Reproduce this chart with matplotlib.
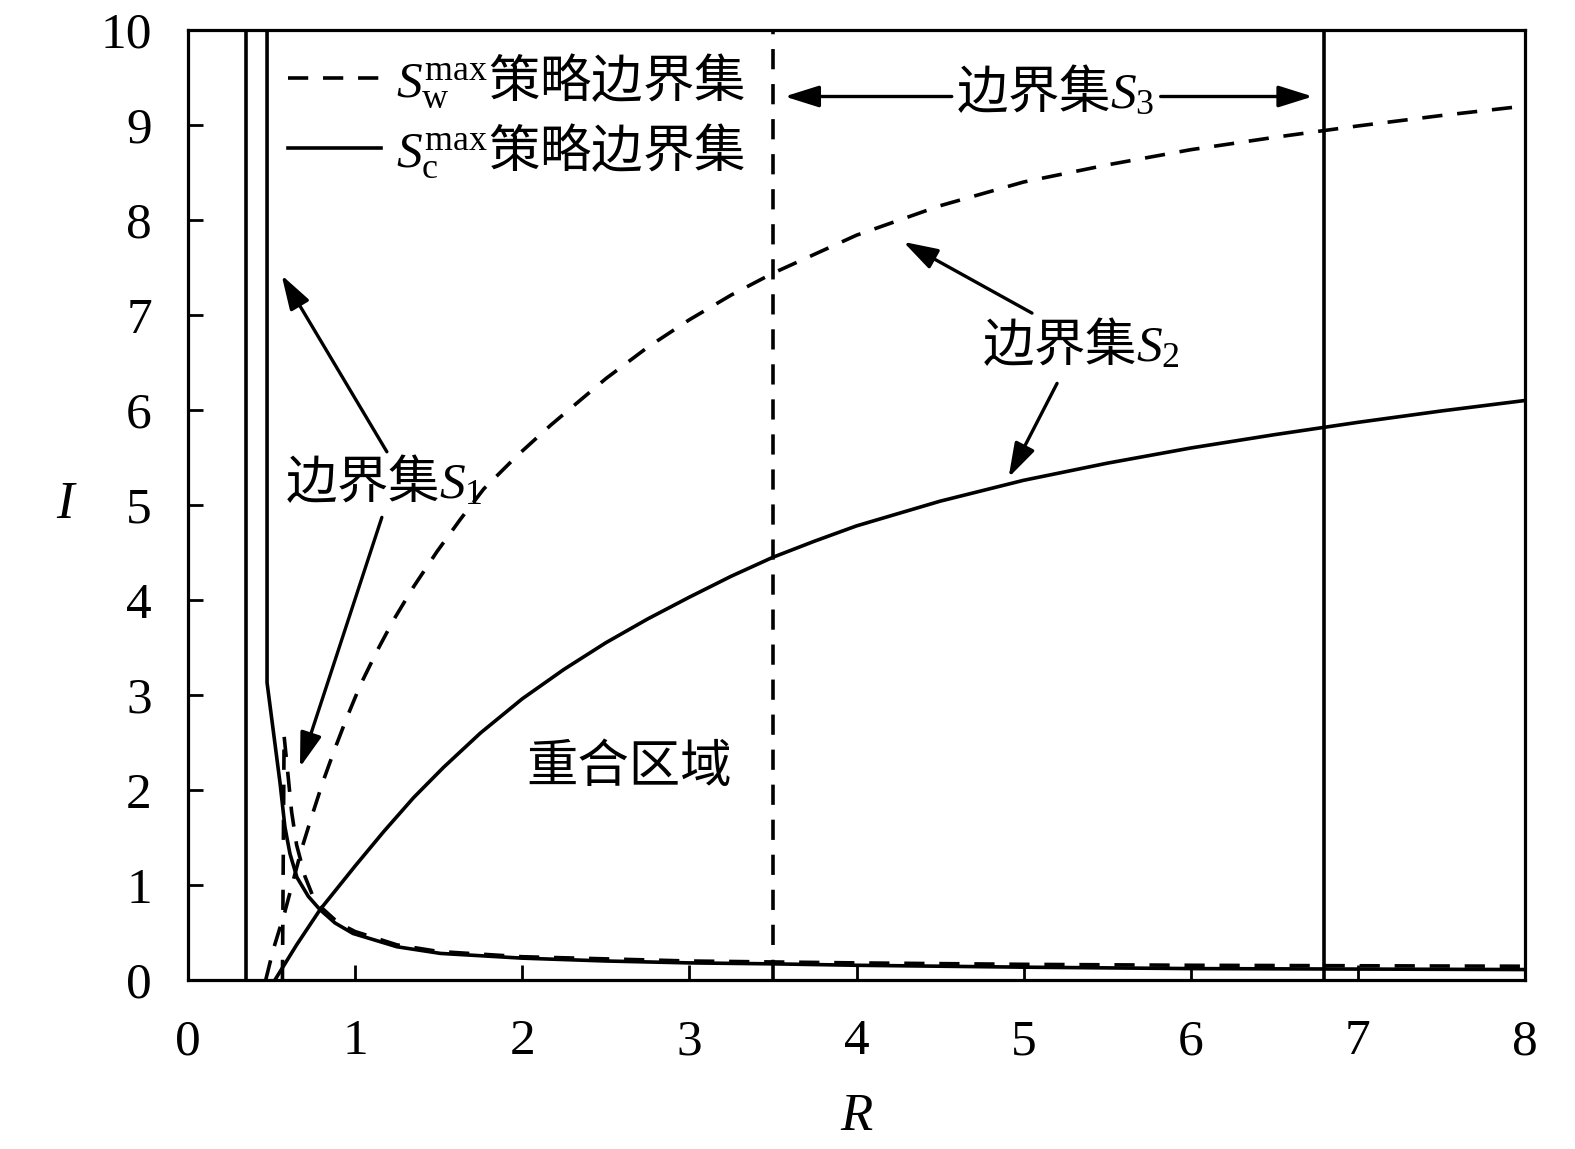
import matplotlib
matplotlib.use('Agg')
import matplotlib.pyplot as plt

plt.rcParams['font.family'] = ['Liberation Serif', 'Noto Sans CJK SC']
plt.rcParams['mathtext.fontset'] = 'custom'
plt.rcParams['mathtext.rm'] = 'Liberation Serif'
plt.rcParams['mathtext.it'] = 'Liberation Serif:italic'
plt.rcParams['mathtext.sf'] = 'Noto Sans CJK SC'

# ---------------- data ----------------
x_ticks = [0, 1, 2, 3, 4, 5, 6, 7, 8]
y_ticks = [0, 1, 2, 3, 4, 5, 6, 7, 8, 9, 10]

# S_c^max strategy boundary (solid)
sc_wall_R = 0.345          # left vertical boundary
sc_right_R = 6.8           # right vertical boundary
sc_hyp_R = [0.473, 0.473, 0.512, 0.551, 0.58, 0.61, 0.652, 0.72, 0.79, 0.88, 0.987,
            1.25, 1.51, 2.0, 2.5, 3.0, 3.5, 4.0, 5.0, 6.0, 7.0, 8.0]
sc_hyp_I = [10.0, 3.13, 2.6, 2.07, 1.61, 1.33, 1.08, 0.88, 0.74, 0.6, 0.49,
            0.35, 0.28, 0.23, 0.2, 0.18, 0.17, 0.155, 0.135, 0.12, 0.115, 0.11]
sc_rise_R = [0.52, 0.65, 0.79, 1.0, 1.17, 1.35, 1.53, 1.75, 2.0, 2.25, 2.5, 2.75, 3.0,
             3.25, 3.5, 3.75, 4.0, 4.5, 5.0, 5.5, 6.0, 6.5, 7.0, 7.5, 8.0]
sc_rise_I = [0.0, 0.37, 0.74, 1.2, 1.56, 1.92, 2.24, 2.6, 2.96, 3.27, 3.55, 3.8, 4.03,
             4.25, 4.45, 4.62, 4.78, 5.04, 5.26, 5.44, 5.6, 5.74, 5.87, 5.99, 6.1]

# S_w^max strategy boundary (dashed)
sw_right_R = 3.5
sw_hyp_R = [0.565, 0.575, 0.60, 0.62, 0.65, 0.70, 0.75, 0.80, 0.9, 1.0, 1.25, 1.5,
            2.0, 3.0, 4.0, 5.0, 6.0, 7.0, 8.0]
sw_hyp_I = [0.0, 2.57, 2.13, 1.77, 1.42, 1.09, 0.87, 0.76, 0.6, 0.51, 0.37, 0.3,
            0.245, 0.2, 0.18, 0.165, 0.155, 0.15, 0.145]
sw_rise_R = [0.465, 0.51, 0.58, 0.63, 0.68, 0.74, 0.81, 0.88, 0.95, 1.03, 1.13, 1.23,
             1.35, 1.49, 1.63, 1.77, 1.97, 2.17, 2.5, 2.75, 3.0, 3.25, 3.5, 4.0, 4.5,
             5.0, 5.5, 6.0, 6.5, 7.0, 7.5, 8.0]
sw_rise_I = [0.0, 0.32, 0.72, 1.05, 1.38, 1.72, 2.1, 2.44, 2.76, 3.1, 3.46, 3.79,
             4.14, 4.51, 4.85, 5.17, 5.52, 5.84, 6.33, 6.66, 6.95, 7.21, 7.44, 7.84, 8.15,
             8.4, 8.58, 8.74, 8.87, 8.99, 9.1, 9.2]

legend_labels = [r'$S_{\mathrm{w}}^{\mathrm{max}}\mathsf{策略边界集}$',
                 r'$S_{\mathrm{c}}^{\mathrm{max}}\mathsf{策略边界集}$']

# annotations: (text, text position, [(arrow tail, arrow head), ...])
s1_label = r'$\mathsf{边界集}S_{1}$'
s1_pos = (1.17, 5.25)
s1_arrows = [((1.19, 5.56), (0.56, 7.42)), ((1.16, 4.87), (0.67, 2.24))]
s2_label = r'$\mathsf{边界集}S_{2}$'
s2_pos = (5.34, 6.69)
s2_arrows = [((5.05, 7.02), (4.28, 7.77)), ((5.20, 6.28), (4.91, 5.29))]
s3_label = r'$\mathsf{边界集}S_{3}$'
s3_pos = (5.19, 9.35)
s3_arrows = [((4.57, 9.3), (3.57, 9.3)), ((5.82, 9.3), (6.73, 9.3))]
overlap_label = '重合区域'
overlap_pos = (2.64, 2.24)

# ---------------- figure ----------------
fig = plt.figure(figsize=(15.75, 11.49), dpi=100)
ax = fig.add_axes([188 / 1575, 1 - 980 / 1149, 1337 / 1575, 950 / 1149])

LW = 2.6
DASH = (0, (5.6, 4.1))

ax.axvline(sc_wall_R, color='k', lw=LW)
ax.axvline(sc_right_R, color='k', lw=LW)
ax.axvline(sw_right_R, color='k', lw=LW, linestyle=DASH)
ax.plot(sc_hyp_R, sc_hyp_I, color='k', lw=LW)
ax.plot(sw_hyp_R, sw_hyp_I, color='k', lw=LW, linestyle=DASH)
l_w, = ax.plot(sw_rise_R, sw_rise_I, color='k', lw=LW, linestyle=DASH)
l_c, = ax.plot(sc_rise_R, sc_rise_I, color='k', lw=LW)

ax.set_xlim(0, 8)
ax.set_ylim(0, 10)
ax.set_xticks(x_ticks)
ax.set_yticks(y_ticks)
ax.tick_params(direction='in', length=11, width=2.0, labelsize=37)
ax.tick_params(axis='x', pad=28)
ax.tick_params(axis='y', pad=26)
for s in ax.spines.values():
    s.set_linewidth(2.3)

ax.set_xlabel(r'$R$', fontsize=38, labelpad=20)
ax.set_ylabel(r'$I$', fontsize=38, rotation=0, labelpad=24, va='center')

leg = ax.legend([l_w, l_c], legend_labels, loc='upper left',
                bbox_to_anchor=(0.075, 0.978), frameon=False, fontsize=37,
                handlelength=1.8, handletextpad=0.3, labelspacing=0.22,
                borderpad=0, borderaxespad=0)

arrow_props = dict(arrowstyle='-|>,head_length=0.7,head_width=0.22', lw=2.4,
                   color='k', mutation_scale=30, shrinkA=0, shrinkB=0)
for label, pos, arrows in [(s1_label, s1_pos, s1_arrows),
                           (s2_label, s2_pos, s2_arrows),
                           (s3_label, s3_pos, s3_arrows)]:
    ax.text(pos[0], pos[1], label, fontsize=37, ha='center', va='center')
    for tail, head in arrows:
        ax.annotate('', xy=head, xytext=tail, arrowprops=arrow_props)

ax.text(overlap_pos[0], overlap_pos[1], overlap_label, fontsize=37,
        family=['Noto Sans CJK SC'], ha='center', va='center')

fig.savefig('out.png', dpi=100)
